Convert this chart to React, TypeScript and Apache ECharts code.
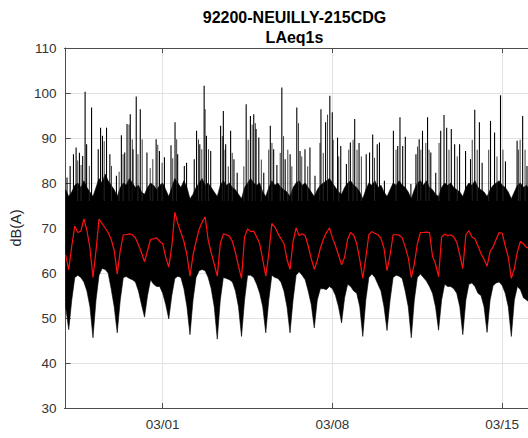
import { useEffect, useRef } from "react";
import * as echarts from "echarts";

// ---- data (hours since 2019-02-25 00:00, 3-hour samples) ----
const STEP_HOURS = 3;
const START_MS = Date.UTC(2019, 1, 25);
const X_MIN = -1.26;
const X_MAX = 457.5;
const tickHours = [96, 264, 432];
const titleLines = ["92200-NEUILLY-215CDG", "LAeq1s"];
const yName = "dB(A)";

// hourly mean level (red)
const meanLevel = [
  64, 60.7, 66, 70.4, 69, 69.3, 72, 69.5,
  65.5, 59, 65, 72, 71, 70, 69, 67.5,
  65, 59.8, 65, 68.5, 68.5, 68.7, 68.5, 67.8,
  66.3, 64.5, 62.5, 65, 67.5, 67.6, 67.8, 67,
  66.5, 63.5, 61.3, 66, 73.5, 71, 69, 67,
  64, 59.3, 64, 67, 69.7, 71.3, 72.5, 67.3,
  64.5, 62, 59.3, 66.5, 68.7, 68.5, 68.2, 67,
  64.5, 61.5, 58.8, 68, 69.8, 69.2, 69.3, 68,
  66.5, 63, 59.3, 64.3, 71, 70.2, 68.8, 67.6,
  66.5, 63, 60.8, 67, 70, 68.3, 68.7, 68.3,
  66, 63.2, 60.8, 62.8, 65.5, 67.5, 69, 70,
  67.8, 66, 64, 61.8, 63.5, 67.5, 69, 68.4,
  66.5, 63, 58.8, 63.5, 68.5, 69.2, 68.8, 68.5,
  67.7, 65.5, 60.5, 64, 68.5, 68.5, 68.4, 67.8,
  65.8, 63.4, 59, 62, 66.5, 69, 69, 69.1,
  69, 63.7, 62, 59.2, 68, 68.6, 68.3, 68.5,
  68, 66.8, 64, 61, 68.5, 69.4, 68, 67.6,
  66, 64.3, 63, 61.5, 64.8, 65.8, 67.5, 69,
  68.8, 66, 63.5, 58.8, 61, 64.7, 67, 66.5,
  65.7, 65.5,
];

// lower envelope of the 1 s values (black)
const lowerEnv = [
  52.5, 47.4, 54, 59, 59.5, 59, 58, 56,
  52.5, 45.6, 54, 59.5, 61, 60.8, 60, 56.5,
  52.5, 46.7, 54, 59, 59.2, 58.8, 58.5, 58,
  56, 53, 50.2, 55, 58.5, 57.5, 57, 57,
  55.5, 53, 49.8, 55, 58.8, 59.3, 59, 56.5,
  52.5, 46.3, 54, 59, 60.5, 60.8, 60.5, 59,
  56.5, 52.5, 45.3, 54, 59, 58.8, 58.5, 58,
  56, 52.5, 45.9, 54, 59.5, 59.5, 59, 57.5,
  55.5, 52.5, 46.7, 54, 59.5, 59, 58.8, 58,
  56, 52.5, 46.7, 54, 59.5, 60.3, 59.5, 58.5,
  56, 53, 47.8, 54, 56.5, 56.5, 56.3, 57,
  56.5, 55, 52.5, 48.9, 54.5, 57.5, 57, 56,
  55.5, 52.5, 45.9, 54, 59, 59.8, 59, 57.5,
  56, 52.5, 47.2, 54, 59, 59.5, 59.3, 58.8,
  56, 52.5, 45.6, 54, 59, 59.8, 59, 58.2,
  57, 55.5, 52.5, 47.3, 54, 57.5, 57, 57,
  56.5, 55.5, 52.5, 46.3, 54, 57.5, 57.8, 57,
  55.5, 55, 52.5, 46.8, 54, 57.2, 57.8, 58,
  57.2, 55.5, 52.5, 45.9, 54, 57, 56.3, 54.5,
  54, 53.5,
];

// dense upper envelope of the 1 s values (black)
const upperEnv = [
  78.5, 77, 78, 79.5, 80, 79, 80.5, 79,
  78, 77, 79, 81, 80, 82, 80.5, 79.5,
  78.5, 77, 79, 80, 79.5, 81, 80, 79,
  79.5, 78, 77.5, 79, 80, 79.5, 78.5, 79.5,
  80, 78.5, 77, 79, 81, 80, 79, 80.5,
  79, 76.5, 77.5, 79, 80, 81, 79.5, 80,
  79, 78, 77, 79.5, 80.5, 79.5, 80, 79,
  78.5, 77.5, 76.5, 79, 80, 81, 80, 79.5,
  80, 78, 77, 79, 80.5, 79.5, 80, 79,
  78.5, 78, 77, 79, 80, 80.5, 79.5, 80,
  79, 78, 77, 78.5, 79.5, 80, 80.5, 81,
  80, 79, 78, 77.5, 79, 80, 80.5, 79.5,
  79, 78, 76.5, 78.5, 80, 79.5, 80.5, 79,
  79.5, 78, 77, 78.5, 80, 79.5, 80.5, 79.5,
  79, 78, 76.5, 78.5, 80, 80.5, 79.5, 80.5,
  79, 78.5, 77.5, 77, 79, 80, 79.5, 80,
  79, 78.5, 78, 77, 79, 80, 79.5, 80.5,
  79, 78.5, 78, 77, 78.5, 79.5, 80, 80.5,
  79.5, 79, 78, 76.5, 78, 79.5, 80, 79,
  79.5, 78.5,
];

// isolated loud events (highest peaks of the black trace)
const spikeHours = [
  1.3, 4.4, 7.7, 10.3, 13.6, 16.8, 19.2, 20.7, 25.6, 32.2, 34.5, 36.4, 40.4, 43.7,
  50.2, 55.1, 58.4, 60.7, 63.9, 66.6, 69.8, 73.8, 80.4, 89.5, 92.8, 97.7, 104.2,
  108.2, 110.8, 117.4, 119.6, 127.2, 129.5, 132.7, 137.0, 139.3, 143.5, 153.3,
  156.0, 158.3, 163.2, 166.5, 169.7, 178.6, 182.8, 186.1, 188.4, 191.1, 196.0,
  202.5, 205.8, 209.0, 213.9, 217.2, 222.1, 228.7, 231.9, 236.8, 241.7, 246.7,
  252.6, 257.2, 261.4, 263.8, 269.0, 272.2, 277.8, 281.7, 286.0, 290.3, 297.4,
  300.7, 303.8, 308.3, 310.5, 315.4, 324.3, 328.6, 330.8, 333.5, 336.1, 341.6,
  346.6, 349.8, 353.1, 358.1, 361.3, 366.2, 371.1, 374.4, 377.0, 381.6, 384.9,
  389.8, 395.7, 400.6, 404.8, 409.4, 412.1, 420.4, 424.4, 430.3, 435.2, 446.7,
  452.2, 456.5,
];
const spikeLevel = [
  81.2, 83.8, 86.4, 87.9, 86.7, 86, 100.3, 88.6, 96.8, 87.5, 92.3, 90.5, 92.3, 86.4,
  81.6, 90.6, 86.8, 93.1, 95.3, 87.5, 99.2, 96.4, 86.8, 89.7, 87.1, 85.7, 88.4,
  93.5, 86.4, 83.8, 84.5, 85.3, 91.6, 88.6, 101.6, 90.5, 87.1, 92.7,
  96, 88.6, 91.6, 85.3, 82.3, 97.5, 94.9, 95.3, 92, 90.1, 82.3,
  92.7, 87.5, 84, 101.2, 85.3, 86.4, 96.8, 87.1, 87.5, 87.9, 81.6,
  96.4, 93.5, 99.4, 95.7, 90.1, 88.2, 84.2, 89, 94.2, 88.9, 86.4,
  86.8, 90.8, 88.6, 89, 80.5, 91.6, 88.2, 94.6, 88.2, 90.3, 79.8,
  86.4, 89.7, 91.6, 94.6, 86.8, 82.3, 91.6, 95.1, 92.3, 92, 88.6,
  88.6, 87.1, 85.3, 96.3, 93.5, 84.5, 93.8, 91.2, 99.5, 84.8, 89.4,
  94.9, 83.8,
];

// fainter, shorter events between the large ones
const minorHours = [
  11.9, 15.2, 23.4, 38.1, 45.3, 52.9, 56.8, 62.7, 65.9, 71.5, 75.7, 83.6, 86.2,
  91.1, 95.4, 105.9, 109.8, 131.4, 134.7, 138.0, 141.3, 155.0, 157.7, 160.9,
  164.8, 176.3, 180.6, 184.5, 187.7, 193.6, 200.9, 204.1, 212.3, 215.6, 219.8,
  223.8, 230.4, 233.6, 239.5, 251.6, 254.9, 259.1, 264.7, 270.2, 280.1, 284.4,
  288.3, 292.6, 305.6, 326.9, 348.2, 351.5, 356.4, 359.6, 369.5, 379.3, 387.5,
  402.3, 407.2, 418.6, 426.8, 432.7, 448.0, 449.7, 454.6,
];
const minorLevel = [
  85, 84, 83.8, 89.3, 83.8, 82.5, 86.4, 93, 89.7, 86.4, 89.7, 83.3, 85.3,
  88.5, 84.5, 85.5, 89.7, 89.7, 87.5, 96.4, 87.5, 90.4, 87.4, 83.7,
  86.7, 83.7, 89.6, 93, 93.3, 85.2, 87.4, 88.9, 86.7, 90.4, 87.4,
  83.7, 93.3, 85.9, 83.7, 88.9, 86.7, 95.2, 89.6, 85.9, 87.4, 89.6,
  87.4, 85.9, 85.6, 87.4, 88.1, 87.4, 88.9, 87.4, 88.9, 87.4, 85.9,
  89.6, 87.4, 87.4, 85.9, 87.4, 87.4, 89.6, 87.4,
];

const sampleHours = meanLevel.map((_, i) => i * STEP_HOURS);

const FONT = '"Liberation Sans", Arial, Helvetica, sans-serif';
const AXIS_COLOR = "#4d4d4d";
const LABEL_COLOR = "#333333";
const GRID_COLOR = "#e2e2e2";

function fmtDate(v: number): string {
  const d = new Date(START_MS + v * 3600 * 1000);
  const mm = String(d.getUTCMonth() + 1).padStart(2, "0");
  const dd = String(d.getUTCDate()).padStart(2, "0");
  return `${mm}/${dd}`;
}

function spikeSeries(name: string, data: number[][], color: string, width: number) {
  return {
    type: "custom",
    name,
    coordinateSystem: "cartesian2d",
    clip: true,
    silent: true,
    z: 2,
    data,
    renderItem: (_params: any, api: any) => {
      const p0 = api.coord([api.value(0), 76]);
      const p1 = api.coord([api.value(0), api.value(1)]);
      return {
        type: "line",
        shape: { x1: p0[0], y1: p0[1], x2: p1[0], y2: p1[1] },
        style: { stroke: color, lineWidth: width },
      };
    },
  };
}

export default function App() {
  const ref = useRef<HTMLDivElement>(null);

  useEffect(() => {
    if (!ref.current) return;
    const chart = echarts.init(ref.current, undefined, { renderer: "svg" });

    const bandData = sampleHours.map((h, i) => [h, lowerEnv[i], upperEnv[i]]);
    const spikeData = spikeHours.map((h, i) => [h, spikeLevel[i]]);
    const minorData = minorHours.map((h, i) => [h, minorLevel[i]]);
    const meanData = sampleHours.map((h, i) => [h, meanLevel[i]]);

    const titleStyle = (text: string) => ({
      text,
      font: `bold 16px ${FONT}`,
      fill: "#000",
      align: "center",
      verticalAlign: "middle",
      textAlign: "center",
      textVerticalAlign: "middle",
    });

    chart.setOption({
      animation: false,
      grid: { left: 61, right: 0, top: 48, bottom: 30, containLabel: false },
      graphic: [
        { type: "text", x: 294.5, y: 17.5, style: titleStyle(titleLines[0]) },
        { type: "text", x: 294.5, y: 37.5, style: titleStyle(titleLines[1]) },
      ],
      xAxis: [
        {
          type: "value",
          position: "bottom",
          min: X_MIN,
          max: X_MAX,
          axisLine: { show: true, onZero: false, lineStyle: { color: AXIS_COLOR, width: 1 } },
          axisTick: {
            show: true,
            inside: true,
            length: 5,
            customValues: tickHours,
            lineStyle: { color: AXIS_COLOR },
          },
          axisLabel: {
            customValues: tickHours,
            formatter: (v: number) => fmtDate(v),
            color: LABEL_COLOR,
            fontSize: 13.5,
            fontFamily: FONT,
            margin: 9,
          },
          splitLine: { show: true, lineStyle: { color: GRID_COLOR, width: 1 } },
        },
        {
          type: "value",
          position: "top",
          min: X_MIN,
          max: X_MAX,
          axisLine: { show: true, onZero: false, lineStyle: { color: AXIS_COLOR, width: 1 } },
          axisTick: {
            show: true,
            inside: true,
            length: 5,
            customValues: tickHours,
            lineStyle: { color: AXIS_COLOR },
          },
          axisLabel: { show: false },
          splitLine: { show: false },
        },
      ],
      yAxis: {
        type: "value",
        min: 30,
        max: 110,
        interval: 10,
        name: yName,
        nameLocation: "middle",
        nameGap: 34,
        nameRotate: 90,
        nameTextStyle: { color: "#262626", fontSize: 14.5, fontFamily: FONT },
        axisLine: { show: true, lineStyle: { color: AXIS_COLOR, width: 1 } },
        axisTick: { show: true, inside: true, length: 5, lineStyle: { color: AXIS_COLOR } },
        axisLabel: { color: LABEL_COLOR, fontSize: 13.5, fontFamily: FONT, margin: 8 },
        splitLine: { show: true, lineStyle: { color: GRID_COLOR, width: 1 } },
      },
      series: [
        {
          type: "custom",
          name: "LAeq1s",
          coordinateSystem: "cartesian2d",
          clip: true,
          silent: true,
          z: 2,
          data: bandData,
          renderItem: (params: any, api: any) => {
            if (params.dataIndex !== 0) return null;
            const pts: number[][] = [];
            for (let i = 0; i < bandData.length; i++) {
              pts.push(api.coord([bandData[i][0], bandData[i][2]]));
            }
            for (let i = bandData.length - 1; i >= 0; i--) {
              pts.push(api.coord([bandData[i][0], bandData[i][1]]));
            }
            return {
              type: "polygon",
              shape: { points: pts },
              style: { fill: "#000", stroke: "#000", lineWidth: 0.6 },
            };
          },
        },
        spikeSeries("minor events", minorData, "#2a2a2a", 0.9),
        spikeSeries("events", spikeData, "#000", 1.1),
        {
          type: "line",
          name: "LAeq1h",
          data: meanData,
          showSymbol: false,
          symbol: "none",
          clip: true,
          z: 3,
          lineStyle: { color: "#ff1010", width: 1.2 },
        },
      ],
    });

    return () => chart.dispose();
  }, []);

  return (
    <div
      ref={ref}
      style={{ position: "absolute", left: 0, top: 0, width: 528, height: 438 }}
    />
  );
}
